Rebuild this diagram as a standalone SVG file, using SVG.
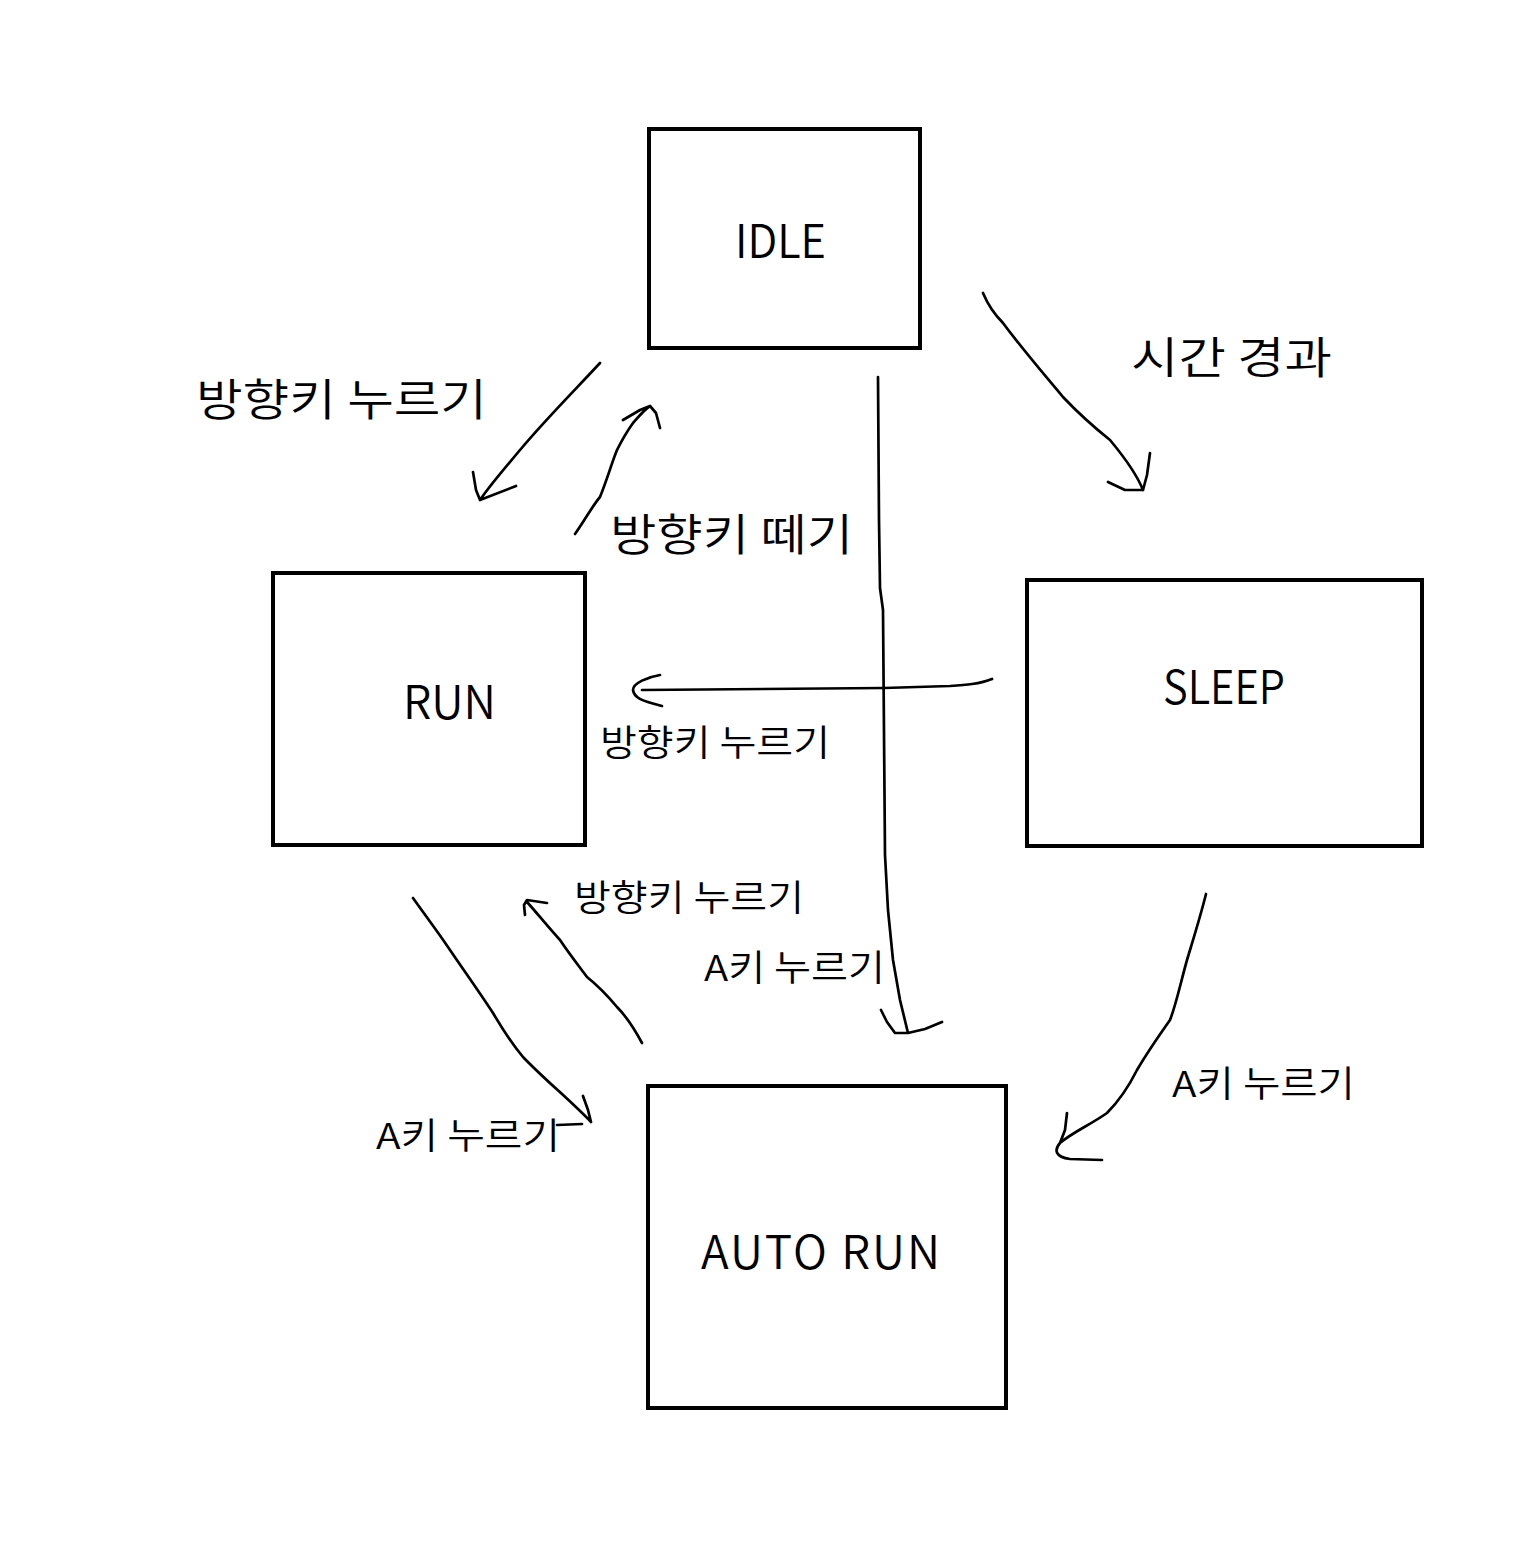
<svg xmlns="http://www.w3.org/2000/svg" width="1517" height="1547" viewBox="0 0 1517 1547">
<style>
.box{fill:none;stroke:#000;stroke-width:4}
.ln{fill:none;stroke:#000;stroke-width:2.7;stroke-linecap:round;stroke-linejoin:round}
text{font-family:"Noto Sans CJK KR","Noto Sans",sans-serif;font-weight:350;fill:#000}
.nt{font-size:46px}
.lg{font-size:44px}
.sm{font-size:36px}
</style>
<rect width="1517" height="1547" fill="#fff"/>
<g id="idle"><rect class="box" x="649" y="129" width="271" height="219"/><text class="nt" x="735" y="258" textLength="91" lengthAdjust="spacingAndGlyphs">IDLE</text></g>
<g id="run"><rect class="box" x="273" y="573" width="312" height="272"/><text class="nt" x="403" y="719" textLength="93" lengthAdjust="spacingAndGlyphs">RUN</text></g>
<g id="sleep"><rect class="box" x="1027" y="580" width="395" height="266"/><text class="nt" x="1163" y="704" textLength="122" lengthAdjust="spacingAndGlyphs">SLEEP</text></g>
<g id="autorun"><rect class="box" x="648" y="1086" width="358" height="322"/><text class="nt" x="701" y="1269" textLength="239" lengthAdjust="spacing">AUTO RUN</text></g>
<g id="connectors">
<path class="ln" d="M600,363 C575,390 545,420 520,450 C505,468 490,485 480,500 M473,472 L476,490 L480,500 L516,486"/>
<path class="ln" d="M575,534 C585,520 593,505 600,497 C607,480 612,462 617,450 C623,438 628,430 633,423 C640,415 645,409 650,406 M623,420 L640,410 L650,406 L656,413 L660,428"/>
<path class="ln" d="M983,293 C988,305 995,315 1003,323 C1023,350 1043,373 1063,397 C1080,415 1095,428 1110,440 C1125,458 1137,475 1143,490 M1150,453 L1147,475 L1143,490 L1125,490 L1108,482"/>
<path class="ln" d="M878,377 L879,520 L880,588 L883,610 L885,855 L888,910 L893,960 L900,1000 L908,1033 M881,1010 L887,1022 L895,1033 L908,1033 L925,1029 L942,1022"/>
<path class="ln" d="M992,679 C980,684 965,685 950,686 L884,688 L642,690 M660,675 C648,677 633,683 633,690 C634,698 642,701 662,706"/>
<path class="ln" d="M413,898 C425,915 438,932 450,950 C465,972 480,993 493,1013 C503,1030 513,1045 523,1057 C545,1080 570,1100 591,1122 M583,1096 L588,1110 L591,1122 M557,1125 L582,1124"/>
<path class="ln" d="M642,1043 C635,1030 628,1018 617,1007 C607,995 597,985 587,977 C578,965 568,952 560,940 C548,927 537,913 527,902 M525,915 L524,905 L527,900 L547,903"/>
<path class="ln" d="M1206,894 C1200,918 1193,940 1187,960 C1180,985 1176,1005 1170,1020 C1158,1037 1147,1053 1137,1070 C1127,1090 1117,1103 1107,1113 C1090,1125 1073,1132 1060,1143 M1067,1113 L1065,1130 L1060,1143 C1054,1150 1055,1157 1070,1159 L1102,1160"/>
</g>
<g id="labels">
<text class="lg" x="196" y="416" textLength="291" lengthAdjust="spacingAndGlyphs">방향키 누르기</text>
<text class="lg" x="610" y="551" textLength="243" lengthAdjust="spacingAndGlyphs">방향키 떼기</text>
<text class="lg" x="1131" y="374" textLength="201" lengthAdjust="spacingAndGlyphs">시간 경과</text>
<text class="sm" x="600" y="756" textLength="230" lengthAdjust="spacingAndGlyphs">방향키 누르기</text>
<text class="sm" x="574" y="911" textLength="230" lengthAdjust="spacingAndGlyphs">방향키 누르기</text>
<text class="sm" x="704" y="981" textLength="181" lengthAdjust="spacingAndGlyphs">A키 누르기</text>
<text class="sm" x="1172" y="1097" textLength="183" lengthAdjust="spacingAndGlyphs">A키 누르기</text>
<text class="sm" x="376" y="1149" textLength="184" lengthAdjust="spacingAndGlyphs">A키 누르기</text>
</g>
</svg>
